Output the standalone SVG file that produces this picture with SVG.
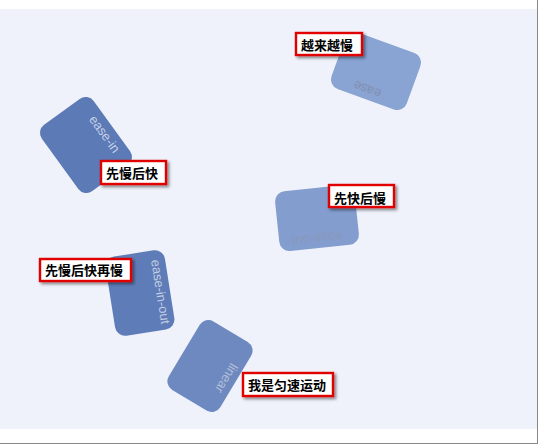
<svg xmlns="http://www.w3.org/2000/svg" width="538" height="444" viewBox="0 0 538 444">
<defs>
<filter id="sh" x="-20%" y="-30%" width="140%" height="170%">
<feDropShadow dx="2" dy="2" stdDeviation="1.8" flood-color="#000" flood-opacity="0.45"/>
</filter>
</defs>
<style>
.card rect{stroke:none}
.card text{font-family:"Liberation Sans","DejaVu Sans",sans-serif;font-size:13px;text-anchor:middle}
.lbl rect{fill:#fff;stroke:#e00000;stroke-width:2.4}
.lbl text{font-family:"Noto Sans CJK SC","Noto Sans CJK JP",sans-serif;font-size:13px;font-weight:bold;fill:#000}
</style>
<rect x="0" y="0" width="538" height="444" fill="#fff"/>
<rect x="0" y="9" width="537" height="420" fill="#eff2fa"/>
<line x1="537.5" y1="0" x2="537.5" y2="444" stroke="#888" stroke-width="1"/>
<line x1="0" y1="443.5" x2="538" y2="443.5" stroke="#888" stroke-width="1"/>

<g id="card-ease" class="card" transform="translate(376,71) rotate(200)">
<rect x="-40" y="-30" width="80" height="60" rx="10" fill="#89a3d3"/>
<text x="2" y="-16" fill="#8090b0">ease</text>
</g>
<g id="card-ease-in" class="card" transform="translate(86,145) rotate(54)">
<rect x="-41" y="-32" width="82" height="64" rx="10" fill="#5b7ab6"/>
<text x="2" y="-17" fill="#c8d1e6">ease-in</text>
</g>
<g id="card-ease-out" class="card" transform="translate(317,218) rotate(174)">
<rect x="-40" y="-30" width="80" height="60" rx="10" fill="#839dcf"/>
<text x="2" y="-16" fill="#8a98b8">ease-out</text>
</g>
<g id="card-ease-in-out" class="card" transform="translate(140,293) rotate(81)">
<rect x="-40" y="-30" width="80" height="60" rx="10" fill="#5e7db8"/>
<text x="2" y="-16" fill="#c3cce2">ease-in-out</text>
</g>
<g id="card-linear" class="card" transform="translate(210,366) rotate(121)">
<rect x="-40" y="-30" width="80" height="60" rx="10" fill="#6d89c0"/>
<text x="2" y="-16" fill="#b4bfd6">linear</text>
</g>

<g id="label-ease" class="lbl">
<rect x="296" y="33" width="66" height="22" filter="url(#sh)"/>
<text x="301" y="49.5">越来越慢</text>
</g>
<g id="label-ease-in" class="lbl">
<rect x="101" y="161" width="65" height="23" filter="url(#sh)"/>
<text x="106" y="178">先慢后快</text>
</g>
<g id="label-ease-out" class="lbl">
<rect x="329" y="185" width="65" height="22" filter="url(#sh)"/>
<text x="334" y="202.5">先快后慢</text>
</g>
<g id="label-ease-in-out" class="lbl">
<rect x="40" y="259" width="91" height="22" filter="url(#sh)"/>
<text x="45" y="275">先慢后快再慢</text>
</g>
<g id="label-linear" class="lbl">
<rect x="243" y="373" width="90" height="23" filter="url(#sh)"/>
<text x="248" y="389.5">我是匀速运动</text>
</g>
</svg>
